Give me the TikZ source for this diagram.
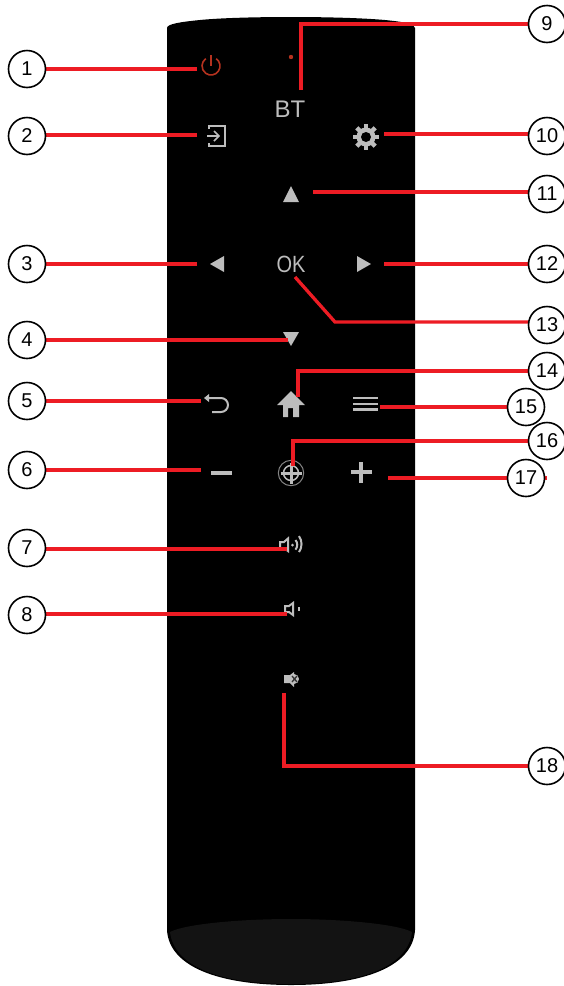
\documentclass[tikz,border=0pt]{standalone}
\usepackage{fontspec}
\setmainfont{Liberation Sans}
\usetikzlibrary{backgrounds}
\definecolor{leadred}{HTML}{ED1C24}
\definecolor{icongray}{HTML}{BDBDBD}
\definecolor{powerred}{HTML}{B5321F}
\definecolor{capgray}{HTML}{131313}
\tikzset{
  callout/.style={circle,draw=black,fill=white,line width=1.6pt,minimum size=37pt,inner sep=0pt,font=\fontsize{20}{20}\selectfont},
  leader/.style={draw=leadred,line width=3.3pt},
  iconline/.style={draw=icongray,line width=2pt},
  keytext/.style={text=icongray,inner sep=0pt},
}
\begin{document}
\begin{tikzpicture}[x=1pt,y=-1pt]
        \useasboundingbox (0,0) rectangle (563,986);

        % Numbered circles
        \foreach \n/\cx/\cy in {1/27/69,2/27/136,3/27/264,4/27/340,5/27/401,6/27/470,7/27/548,8/27/615,
                                9/547/24,10/547/136,11/547/194,12/547/264,13/547/325,14/547/371,
                                15/526/407,16/547/441,17/526/478,18/547/766}
            \node[callout] (c\n) at (\cx,\cy) {\n};

        % Ends of the leaders
        \foreach \n/\px/\py in {1/197/69,2/197/135,3/197/264,4/288/340,5/201/401,6/201/470,7/287/549,8/287/614,
                                9/301/90,10/384/134,11/313/192,12/384/264,13/335/322,14/298/397,
                                15/380/407,16/293/466,17/388/478,18/284/693}
            \coordinate (p\n) at (\px,\py);
        \coordinate (ok) at (295,277);

        \begin{scope}[on background layer]
        % Remote body
        \fill[black] (167,28) .. controls (167,24) and (180,22) .. (200,20) .. controls (240,16) and (340,16) .. (385,20)
            .. controls (405,22) and (415,24) .. (415,28) -- (415,930)
            .. controls (413,966) and (365,985) .. (291,985)
            .. controls (217,985) and (169,966) .. (167,930) -- cycle;
        \fill[capgray] (170,932) .. controls (185,924) and (240,919) .. (291,919)
            .. controls (342,919) and (397,924) .. (412,932)
            .. controls (408,966) and (363,984) .. (291,984)
            .. controls (219,984) and (174,966) .. (170,932) -- cycle;

        % Power and dot
        \draw[draw=powerred,line width=1.6pt] (211,66) ++(-55:9) arc (-55:235:9);
        \draw[draw=powerred,line width=1.6pt] (211,55) -- (211,66);
        \fill[powerred] (291,57) circle (2.2);

        % Text keys
        \node[keytext,font=\fontsize{24}{24}\selectfont] (bt) at (290,109) {BT};
        \node[keytext,font=\fontsize{23.5}{24}\selectfont,xscale=.85] (okkey) at (291,264.5) {OK};

        % Input
        \draw[iconline,line width=1.4pt] (209,129) -- (209,126) -- (225,126) -- (225,146) -- (209,146) -- (209,143);
        \draw[iconline,line width=1.6pt] (207,136) -- (219,136);
        \draw[iconline,line width=1.6pt] (214,131) -- (219,136) -- (214,141);

        % Gear
        \fill[icongray] (366,137) circle (9.5);
        \foreach \a in {0,45,...,315}
            \draw[iconline,line width=4.5pt] (366,137) ++(\a:8) -- ++(\a:5);
        \fill[black] (366,137) circle (5);

        % Arrows
        \fill[icongray] (283,202) -- (299,202) -- (291,186) -- cycle;
        \fill[icongray] (283,332) -- (299,332) -- (291,346) -- cycle;
        \fill[icongray] (224,256) -- (224,272) -- (210,264) -- cycle;
        \fill[icongray] (357,256) -- (357,272) -- (371,264) -- cycle;

        % Home
        \fill[icongray] (277,405) -- (291,391) -- (305,405) -- (299,405) -- (299,417) -- (293,417) -- (293,408)
            -- (288,408) -- (288,417) -- (283,417) -- (283,405) -- cycle;

        % Back
        \draw[iconline] (207,398) -- (221,398) arc (-90:90:7) -- (212,412);
        \fill[icongray] (204,398) -- (209,394) -- (209,402) -- cycle;

        % Menu
        \foreach \my in {398,404,409.5}
            \draw[iconline,line width=2.5pt] (353,\my) -- (378,\my);

        % Minus, plus
        \draw[iconline,line width=3.2pt] (211,473) -- (232,473);
        \draw[iconline,line width=3.2pt] (351,472) -- (372,472);
        \draw[iconline,line width=3.2pt] (361,462) -- (361,483);

        % Centre key
        \draw[icongray!70!black,line width=1pt] (291,473) circle (12.7);
        \draw[iconline,line width=1.5pt] (291,473) circle (7.5);
        \draw[iconline,line width=3pt] (280.5,473) -- (301.5,473);
        \draw[iconline,line width=3pt] (291,462.5) -- (291,483.5);

        % Speakers
        \draw[iconline] (280,542) -- (284,542) -- (288,538.5) -- (288,551) -- (284,548) -- (280,548) -- cycle;
        \fill[icongray] (292.5,545) circle (1.5);
        \draw[iconline] (295.5,540) arc (-40:40:7.5);
        \draw[iconline] (299,536) arc (-35:35:14);
        \draw[iconline] (285,606) -- (289,606) -- (293,603) -- (293,615) -- (289,612) -- (285,612) -- cycle;
        \fill[icongray] (298,606.5) rectangle (300,611);
        \fill[icongray] (284,675) -- (290,675) -- (294,672) -- (294,687) -- (290,683) -- (284,683) -- cycle;
        \fill[icongray] (294,679) circle (5);
        \draw[black!80,line width=1.3pt] (292,676) -- (297,682) (297,676) -- (292,682);

        % Straight leaders
        \foreach \n in {1,2,3,4,5,6,7,8,10,11,12,15}
            \draw[leader] (p\n) -- (p\n -| c\n);
        \draw[leader] (p17) -- (p17 -| c16);

        % Bent leaders
        \draw[leader] (p9) -- (p9 |- c9) -- (c9);
        \draw[leader] (p14) -- (p14 |- c14) -- (c14);
        \draw[leader] (p16) -- (p16 |- c16) -- (c16);
        \draw[leader] (p18) -- (p18 |- c18) -- (c18);
        \draw[leader] (ok) -- (p13) -- (p13 -| c13);
        \end{scope}
\end{tikzpicture}
\end{document}
